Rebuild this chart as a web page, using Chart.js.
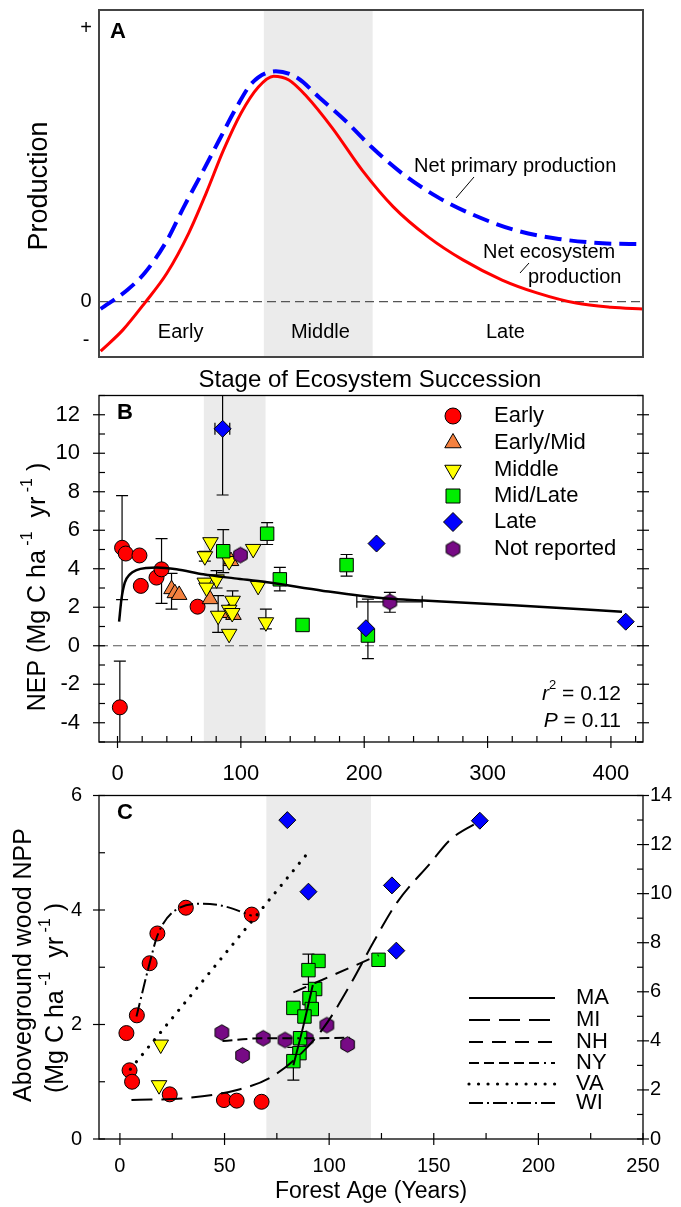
<!DOCTYPE html>
<html>
<head>
<meta charset="utf-8">
<script src="https://cdn.jsdelivr.net/npm/chart.js@4.4.1/dist/chart.umd.min.js"></script>
<style>
  html, body { margin: 0; padding: 0; background: #fff; }
  #fig { position: relative; width: 681px; height: 1207px; overflow: hidden; }
  #fig canvas { position: absolute; left: 0; }
</style>
</head>
<body>
<div id="fig">
  <canvas id="panelA" width="681" height="395" style="top:0px"></canvas>
  <canvas id="panelB" width="681" height="415" style="top:385px"></canvas>
  <canvas id="panelC" width="681" height="422" style="top:785px"></canvas>
</div>
<script>
'use strict';

/* ============================================================
   Data
   ============================================================ */

// --- Panel A : conceptual curves, x = relative stage (0-100) ---
const stageBand   = [30.3, 50.3];
const nppX = [0.3, 5.2, 8.4, 12.5, 15.6, 18.9, 22.1, 25.3, 28.1, 32.5, 36.5, 40.5, 45.3, 50.1, 55.7, 62.1, 68.5, 76.5, 84.5, 92.6, 100];
const nppY = [-0.025, 0.04, 0.098, 0.21, 0.325, 0.44, 0.554, 0.667, 0.749, 0.79, 0.767, 0.70, 0.62, 0.53, 0.44, 0.36, 0.30, 0.245, 0.215, 0.20, 0.197];
const nepX = [0.3, 4.4, 8.4, 12.5, 16.5, 19.7, 22.9, 26.1, 29.3, 32.1, 34.9, 38.1, 42.9, 48.4, 54.1, 60.5, 66.9, 74.1, 80.5, 87.7, 94.1, 100];
const nepY = [-0.17, -0.097, -0.005, 0.098, 0.235, 0.372, 0.52, 0.646, 0.736, 0.773, 0.76, 0.705, 0.595, 0.45, 0.325, 0.222, 0.143, 0.074, 0.03, -0.005, -0.019, -0.025];
const stageNames  = ['Early', 'Middle', 'Late'];
const stageNameX  = [15, 40.7, 74.7];
const signLabels  = ['+', '0', '-'];
const signValues  = [0.938, 0, -0.132];

// --- Panel B : NEP vs forest age ---
const ageBand = [70, 120];
const earlyX  = [3.7, 6.7, 17.8, 18.9, 31.6, 35.7, 64.9, 1.9];
const earlyY  = [5.09, 4.79, 4.69, 3.11, 3.54, 3.97, 2.03, -3.2];
const earlyEY = [[2.4, 7.8], null, null, null, null, [2.2, 5.57], null, [-5.6, -0.8]];
const emidX   = [43.8, 46.5, 50, 75, 90, 94, 92];
const emidY   = [2.94, 2.73, 2.64, 2.42, 1.7, 1.6, 4.4];
const emidEY  = [[1.9, 3.76], null, null, null, null, null, null];
const middleX = [75.4, 70.8, 110, 90.5, 70.8, 80.3, 72.2, 114, 93.3, 81.6, 90.5, 93, 90.5, 120.3];
const middleY = [5.38, 4.65, 5.03, 4.40, 3.28, 3.45, 3.02, 3.11, 2.34, 1.56, 1.87, 1.7, 0.62, 1.22];
const middleEY = [null, [4.4, 4.9], null, null, null, [3.0, 3.9], null, null, [1.4, 2.85], [0.7, 2.6], null, null, null, [0.88, 1.9]];
const mlateX  = [121.3, 85.7, 131.6, 150, 185.7, 203];
const mlateY  = [5.82, 4.91, 3.45, 1.08, 4.19, 0.53];
const mlateEY = [[5.26, 6.4], [3.8, 6.03], [2.85, 4.07], null, [3.62, 4.74], [-0.67, 2.42]];
const lateX   = [85.2, 210, 201.4, 412];
const lateY   = [11.27, 5.31, 0.91, 1.25];
const lateEY  = [[7.83, 14.7], null, null, null];
const lateEX  = [[79, 91], null, null, null];
const notrepX = [99.7, 220.8];
const notrepY = [4.71, 2.28];
const notrepEY = [null, [1.74, 2.77]];
const notrepEX = [null, [194, 247]];
const fitX = [1.3, 3.2, 5.9, 10, 15.4, 23.5, 31.6, 47.8, 69.5, 95, 120, 167, 218, 248, 321, 409];
const fitY = [1.25, 2.42, 3.28, 3.71, 3.93, 4.04, 4.06, 3.97, 3.71, 3.5, 3.31, 2.85, 2.45, 2.35, 2.1, 1.77];
const groupNames = ['Early', 'Early/Mid', 'Middle', 'Mid/Late', 'Late', 'Not reported'];
const nepTicks   = [-4, -2, 0, 2, 4, 6, 8, 10, 12];
const ageTicksB  = [0, 100, 200, 300, 400];

// --- Panel C : aboveground wood NPP vs forest age ---
const cEarlyX  = [31.5, 63, 17.9, 14.2, 8.1, 3.1, 4.6, 5.8, 23.8, 49.7, 55.8, 67.7];
const cEarlyY  = [4.04, 3.92, 3.59, 3.07, 2.16, 1.85, 1.20, 1.0, 0.78, 0.68, 0.67, 0.65];
const cMiddleX = [19.5, 18.7];
const cMiddleY = [1.65, 0.94];
const cNotrepX = [48.7, 58.6, 68.5, 78.9, 89, 98.9, 108.8];
const cNotrepY = [1.86, 1.46, 1.76, 1.73, 1.75, 1.99, 1.65];
const cNotrepEY = [[1.8, 1.92], null, [1.7, 1.82], null, null, null, [1.59, 1.71]];
const cMlateX  = [94.9, 90.1, 93.3, 90.6, 82.9, 91.7, 88.2, 86.1, 85.8, 82.9, 123.6];
const cMlateY  = [3.11, 2.95, 2.62, 2.46, 2.29, 2.27, 2.14, 1.76, 1.50, 1.36, 3.13];
const cMlateEY = [null, [2.7, 3.23], null, null, null, null, null, null, null, [1.03, 1.6], null];
const cLateX   = [80, 90.1, 130, 172, 132.1];
const cLateY   = [5.57, 4.32, 4.43, 5.56, 3.29];
const maX = [82.9, 87.5, 92.2];
const maY = [1.29, 1.95, 2.69];
const miX = [5.5, 33.4, 57.4, 71.7, 84.5, 97.3, 110, 121.2, 132.4, 148.4, 158, 172.4];
const miY = [0.68, 0.72, 0.87, 1.07, 1.42, 1.94, 2.69, 3.44, 4.13, 4.82, 5.23, 5.56];
const nhX = [82.9, 123.6];
const nhY = [2.56, 3.21];
const nyX = [49, 68.5, 89, 110];
const nyY = [1.71, 1.76, 1.76, 1.77];
const vaX = [5, 90.1];
const vaY = [1.22, 5.01];
const wiX = [7.9, 14.2, 18.2, 28.6, 39.8, 49.4, 63];
const wiY = [2.14, 3.07, 3.58, 4.04, 4.11, 4.07, 3.90];
const siteNames    = ['MA', 'MI', 'NH', 'NY', 'VA', 'WI'];
const nppTicks     = [0, 2, 4, 6];
const nppRightTicks = [0, 2, 4, 6, 8, 10, 12, 14];
const ageTicksC    = [0, 50, 100, 150, 200, 250];

/* ============================================================
   Styles / helpers
   ============================================================ */
const FONT = "'Liberation Sans', Arial, Helvetica, sans-serif";
Chart.defaults.font.family = FONT;
Chart.defaults.color = '#000';

const COL = {
  early: '#ff0000', emid: '#f4813f', middle: '#ffff00',
  mlate: '#00ee00', late: '#0000ff', notrep: '#770a85',
  band: '#ebebeb',
};
const SITE_DASH = {
  MA: [], MI: [21, 9], NH: [14, 9],
  NY: [10, 5, 10, 5, 10, 5, 10, 5, 10, 5, 2, 5],
  VA: [0.01, 9.5], WI: [14, 4, 2, 4],
};

function hexImage(r, fill) {
  const s = Math.ceil(2 * r + 3);
  const c = document.createElement('canvas');
  c.width = s; c.height = s;
  const g = c.getContext('2d');
  g.beginPath();
  for (let k = 0; k < 6; k++) {
    const a = Math.PI / 2 + k * Math.PI / 3;
    const px = s / 2 + r * Math.cos(a), py = s / 2 + r * Math.sin(a);
    if (k) g.lineTo(px, py); else g.moveTo(px, py);
  }
  g.closePath();
  g.fillStyle = fill; g.fill();
  g.strokeStyle = '#000'; g.lineWidth = 1; g.stroke();
  return c;
}
const HEX = hexImage(7.8, COL.notrep);

const pts = (xs, ys) => xs.map((x, i) => ({ x, y: ys[i] }));

function pointSet(xs, ys, style, extra) {
  return Object.assign({
    type: 'scatter',
    data: pts(xs, ys),
    pointBorderColor: '#000',
    pointBorderWidth: 1,
    pointHoverRadius: 0,
  }, style, extra || {});
}

const MARK = {
  early:  { pointStyle: 'circle',   pointRadius: 7.5, pointBackgroundColor: COL.early },
  emid:   { pointStyle: 'triangle', pointRadius: 9,   pointBackgroundColor: COL.emid },
  middle: { pointStyle: 'triangle', pointRadius: 9,   pointRotation: 180, pointBackgroundColor: COL.middle },
  mlate:  { pointStyle: 'rect',     pointRadius: 9.5, pointBackgroundColor: COL.mlate },
  late:   { pointStyle: 'rectRot',  pointRadius: 8.5, pointBackgroundColor: COL.late },
  notrep: { pointStyle: HEX,        pointRadius: 8,   pointBackgroundColor: COL.notrep },
};

function curve(xs, ys, color, width, dash, extra) {
  return Object.assign({
    type: 'line',
    data: pts(xs, ys),
    borderColor: color,
    borderWidth: width,
    borderDash: dash || [],
    pointRadius: 0,
    fill: false,
    cubicInterpolationMode: 'monotone',
  }, extra || {});
}

function axis(min, max, tickValues, o) {
  return {
    type: 'linear', min, max, position: o.position,
    grid: { display: false, drawTicks: false, tickLength: 0 },
    border: { display: false },
    ticks: {
      display: !!tickValues, padding: o.pad || 0, autoSkip: false, maxRotation: 0,
      font: { size: o.size || 20 }, color: '#000',
    },
    afterBuildTicks: s => { if (tickValues) s.ticks = tickValues.map(v => ({ value: v })); },
    afterFit: s => {
      // pin box sizes so the plot frames land where the figure has them
      if (o.w != null) s.width = o.w;
      if (o.h != null) s.height = o.h;
      s.paddingTop = 0; s.paddingBottom = 0;
      s.paddingLeft = 0; s.paddingRight = 0;
    },
  };
}

function baseOptions(padding, scales) {
  return {
    responsive: false, animation: false, events: [],
    layout: { padding },
    plugins: { legend: { display: false }, tooltip: { enabled: false } },
    scales,
  };
}

/* rich text: parts = [[text, 'n' | 's' (superscript) | 'i' (italic) | 'b' (bold)]] */
function drawRich(ctx, parts, x, y, size, align) {
  const fontFor = k => (k === 'i' ? 'italic ' : k === 'b' ? 'bold ' : '') +
    (k === 's' ? Math.round(size * 0.62) : size) + 'px ' + FONT;
  let w = 0;
  parts.forEach(([t, k]) => { ctx.font = fontFor(k); w += ctx.measureText(t).width; });
  let cx = align === 'center' ? x - w / 2 : align === 'right' ? x - w : x;
  ctx.textAlign = 'left';
  ctx.textBaseline = 'middle';
  ctx.fillStyle = '#000';
  parts.forEach(([t, k]) => {
    ctx.font = fontFor(k);
    ctx.fillText(t, cx, k === 's' ? y - size * 0.4 : y);
    cx += ctx.measureText(t).width;
  });
}
function drawRotated(ctx, parts, x, y, size) {
  ctx.save();
  ctx.translate(x, y);
  ctx.rotate(-Math.PI / 2);
  drawRich(ctx, parts, 0, 0, size, 'center');
  ctx.restore();
}
function line(ctx, x1, y1, x2, y2) {
  ctx.beginPath(); ctx.moveTo(x1, y1); ctx.lineTo(x2, y2); ctx.stroke();
}

function marker(ctx, kind, x, y) {
  ctx.save();
  ctx.strokeStyle = '#000'; ctx.lineWidth = 1;
  ctx.beginPath();
  if (kind === 'notrep') {
    ctx.drawImage(HEX, x - HEX.width / 2, y - HEX.height / 2);
    ctx.restore();
    return;
  }
  if (kind === 'early') { ctx.arc(x, y, 8, 0, Math.PI * 2); }
  if (kind === 'emid' || kind === 'middle') {
    const s = kind === 'emid' ? 1 : -1, r = 9.5, c = r * Math.cos(Math.PI / 6);
    ctx.moveTo(x, y - s * r); ctx.lineTo(x + c, y + s * r / 2); ctx.lineTo(x - c, y + s * r / 2);
  }
  if (kind === 'mlate') { ctx.rect(x - 7, y - 7, 14, 14); }
  if (kind === 'late') { const r = 9.5; ctx.moveTo(x, y - r); ctx.lineTo(x + r, y); ctx.lineTo(x, y + r); ctx.lineTo(x - r, y); }
  ctx.closePath();
  ctx.fillStyle = COL[kind]; ctx.fill(); ctx.stroke();
  ctx.restore();
}

/* error bars from dataset fields errY / errX (data values) */
function drawErrorBars(chart) {
  const { ctx, chartArea: a, scales } = chart;
  const CAP = 6;
  ctx.save();
  ctx.beginPath(); ctx.rect(a.left, a.top, a.right - a.left, a.bottom - a.top); ctx.clip();
  ctx.strokeStyle = '#000'; ctx.lineWidth = 1.2;
  chart.data.datasets.forEach(ds => {
    if (!ds.errY && !ds.errX) return;
    const xs = scales.x, ys = scales.y;
    ds.data.forEach((p, i) => {
      const px = xs.getPixelForValue(p.x), py = ys.getPixelForValue(p.y);
      const ey = ds.errY && ds.errY[i];
      if (ey) {
        const y1 = ys.getPixelForValue(ey[0]), y2 = ys.getPixelForValue(ey[1]);
        line(ctx, px, y1, px, y2);
        line(ctx, px - CAP, y1, px + CAP, y1);
        line(ctx, px - CAP, y2, px + CAP, y2);
      }
      const ex = ds.errX && ds.errX[i];
      if (ex) {
        const x1 = xs.getPixelForValue(ex[0]), x2 = xs.getPixelForValue(ex[1]);
        line(ctx, x1, py, x2, py);
        line(ctx, x1, py - CAP, x1, py + CAP);
        line(ctx, x2, py - CAP, x2, py + CAP);
      }
    });
  });
  ctx.restore();
}

/* tick marks crossing the frame: major both sides, minor inside */
function drawTicks(chart, id, side, major, minor) {
  const { ctx, chartArea: a } = chart;
  const s = chart.scales[id], L = 6;
  ctx.save();
  ctx.strokeStyle = '#000'; ctx.lineWidth = 1.2;
  const put = (v, big) => {
    const p = s.getPixelForValue(v);
    if (side === 'left')   line(ctx, a.left + L, p, big ? a.left - L : a.left, p);
    if (side === 'right')  line(ctx, a.right - L, p, big ? a.right + L : a.right, p);
    if (side === 'bottom') line(ctx, p, a.bottom - L, p, big ? a.bottom + L : a.bottom);
  };
  major.forEach(v => put(v, true));
  minor.forEach(v => put(v, false));
  ctx.restore();
}
function minorBetween(min, max, step, major) {
  const out = [];
  for (let v = Math.ceil(min / step) * step; v <= max + 1e-9; v += step) {
    if (!major.some(m => Math.abs(m - v) < 1e-9)) out.push(v);
  }
  return out;
}

function decor(spec) {
  return {
    id: 'decor' + spec.name,
    beforeDatasetsDraw(chart) {
      const { ctx, chartArea: a, scales } = chart;
      ctx.save();
      const x1 = scales.x.getPixelForValue(spec.band[0]);
      const x2 = scales.x.getPixelForValue(spec.band[1]);
      ctx.fillStyle = COL.band;
      ctx.fillRect(x1, a.top, x2 - x1, a.bottom - a.top);
      if (spec.zero) {
        const y0 = scales.y.getPixelForValue(0);
        ctx.strokeStyle = '#555'; ctx.lineWidth = 1.2; ctx.setLineDash([9, 5]);
        line(ctx, a.left, y0, a.right, y0);
      }
      ctx.restore();
      drawErrorBars(chart);
    },
    afterDraw(chart) {
      const { ctx, chartArea: a } = chart;
      ctx.save();
      ctx.strokeStyle = spec.frameColor || '#000';
      ctx.lineWidth = spec.frameWidth || 1.3;
      ctx.strokeRect(a.left, a.top, a.right - a.left, a.bottom - a.top);
      ctx.restore();
      ctx.save();
      ctx.translate(0, -spec.top);      // draw below in page coordinates
      spec.draw(chart, ctx);
      ctx.restore();
    },
  };
}

/* ============================================================
   Panel A
   ============================================================ */
new Chart(document.getElementById('panelA'), {
  type: 'line',
  data: {
    datasets: [
      curve(nepX, nepY, '#ff0000', 3),
      curve(nppX, nppY, '#0000ff', 4, [17, 8]),
    ],
  },
  options: baseOptions({ top: 10, right: 38, left: 0, bottom: 0 }, {
    x: axis(0, 100, null, { position: 'bottom', h: 38 }),
    y: axis(-0.19, 1, null, { position: 'left', w: 99 }),
  }),
  plugins: [decor({
    name: 'A', top: 0, band: stageBand, zero: true, frameColor: '#444', frameWidth: 2,
    draw(chart, ctx) {
      const ys = chart.scales.y, xs = chart.scales.x;
      ctx.fillStyle = '#000';
      signLabels.forEach((t, i) => drawRich(ctx, [[t, 'n']], 86, ys.getPixelForValue(signValues[i]), 20, 'center'));
      drawRich(ctx, [['A', 'b']], 118, 32, 22, 'center');
      drawRotated(ctx, [['Production', 'n']], 40, 186, 27);
      stageNames.forEach((t, i) => drawRich(ctx, [[t, 'n']], xs.getPixelForValue(stageNameX[i]), 332, 20, 'center'));
      drawRich(ctx, [['Net primary production', 'n']], 414, 166, 20, 'left');
      drawRich(ctx, [['Net ecosystem', 'n']], 483, 252, 20, 'left');
      drawRich(ctx, [['production', 'n']], 528, 277, 20, 'left');
      ctx.strokeStyle = '#000'; ctx.lineWidth = 1;
      line(ctx, 456, 198, 474, 177);
      line(ctx, 520, 273, 529, 263);
      drawRich(ctx, [['Stage of Ecosystem Succession', 'n']], 370, 380, 24, 'center');
    },
  })],
});

/* ============================================================
   Panel B
   ============================================================ */
new Chart(document.getElementById('panelB'), {
  type: 'scatter',
  data: {
    datasets: [
      curve(fitX, fitY, '#000', 2.5),
      pointSet(notrepX, notrepY, MARK.notrep, { errY: notrepEY, errX: notrepEX }),
      pointSet(lateX, lateY, MARK.late, { errY: lateEY, errX: lateEX }),
      pointSet(mlateX, mlateY, MARK.mlate, { errY: mlateEY }),
      pointSet(middleX, middleY, MARK.middle, { errY: middleEY }),
      pointSet(emidX, emidY, MARK.emid, { errY: emidEY }),
      pointSet(earlyX, earlyY, MARK.early, { errY: earlyEY }),
    ],
  },
  options: baseOptions({ top: 10, right: 38, left: 0, bottom: 0 }, {
    x: axis(-15, 426, ageTicksB, { position: 'bottom', h: 58, pad: 19, size: 22 }),
    y: axis(-5, 13, nepTicks, { position: 'left', w: 99, pad: 19, size: 22 }),
  }),
  plugins: [decor({
    name: 'B', top: 385, band: ageBand, zero: true,
    draw(chart, ctx) {
      ctx.translate(0, 385);
      drawTicks(chart, 'y', 'left', nepTicks, minorBetween(-5, 13, 1, nepTicks));
      drawTicks(chart, 'y', 'right', nepTicks, minorBetween(-5, 13, 1, nepTicks));
      drawTicks(chart, 'x', 'bottom', ageTicksB, minorBetween(-15, 426, 20, ageTicksB));
      ctx.translate(0, -385);
      drawRich(ctx, [['B', 'b']], 125, 413, 22, 'center');
      const kinds = ['early', 'emid', 'middle', 'mlate', 'late', 'notrep'];
      const rowY = [416, 443, 470, 496, 522, 549];
      groupNames.forEach((t, i) => {
        marker(ctx, kinds[i], 453, rowY[i]);
        drawRich(ctx, [[t, 'n']], 494, rowY[i], 22, 'left');
      });
      drawRich(ctx, [['r', 'i'], ['2', 's'], [' = 0.12', 'n']], 621, 694, 21, 'right');
      drawRich(ctx, [['P', 'i'], [' = 0.11', 'n']], 621, 721, 21, 'right');
      drawRotated(ctx, [['NEP (Mg C ha', 'n'], [' -1', 's'], ['  yr', 'n'], [' -1', 's'], [' )', 'n']], 38, 587, 25);
    },
  })],
});

/* ============================================================
   Panel C
   ============================================================ */
new Chart(document.getElementById('panelC'), {
  type: 'scatter',
  data: {
    datasets: [
      curve(maX, maY, '#000', 2, SITE_DASH.MA),
      curve(miX, miY, '#000', 2, SITE_DASH.MI),
      curve(nhX, nhY, '#000', 2, SITE_DASH.NH),
      curve(nyX, nyY, '#000', 2, SITE_DASH.NY),
      curve(vaX, vaY, '#000', 3.2, SITE_DASH.VA, { borderCapStyle: 'round' }),
      curve(wiX, wiY, '#000', 2, SITE_DASH.WI),
      pointSet(cLateX, cLateY, MARK.late),
      pointSet(cMlateX, cMlateY, MARK.mlate, { errY: cMlateEY }),
      pointSet(cNotrepX, cNotrepY, MARK.notrep, { errY: cNotrepEY }),
      pointSet(cMiddleX, cMiddleY, MARK.middle),
      pointSet(cEarlyX, cEarlyY, MARK.early),
    ],
  },
  options: baseOptions({ top: 6, right: 0, left: 0, bottom: 0 }, {
    x: axis(-10, 250, ageTicksC, { position: 'bottom', h: 68, pad: 15, size: 20 }),
    y: axis(0, 6, nppTicks, { position: 'left', w: 99, pad: 17, size: 20 }),
    y2: axis(0, 14, nppRightTicks, { position: 'right', w: 38, pad: 7, size: 20 }),
  }),
  plugins: [decor({
    name: 'C', top: 785, band: ageBand, zero: false,
    draw(chart, ctx) {
      ctx.translate(0, 785);
      drawTicks(chart, 'y', 'left', nppTicks, minorBetween(0, 6, 1, nppTicks));
      drawTicks(chart, 'y2', 'right', nppRightTicks, minorBetween(0, 14, 1, nppRightTicks));
      drawTicks(chart, 'x', 'bottom', ageTicksC, minorBetween(-10, 250, 25, ageTicksC));
      ctx.translate(0, -785);
      drawRich(ctx, [['C', 'b']], 125, 813, 22, 'center');
      const rowY = [998, 1020, 1042, 1063, 1084, 1103];
      siteNames.forEach((t, i) => {
        ctx.save();
        ctx.strokeStyle = '#000';
        ctx.lineWidth = t === 'VA' ? 3.2 : 2;
        ctx.lineCap = t === 'VA' ? 'round' : 'butt';
        ctx.setLineDash(SITE_DASH[t]);
        line(ctx, 469, rowY[i], 555, rowY[i]);
        ctx.restore();
        drawRich(ctx, [[t, 'n']], 576, rowY[i], 22, 'left');
      });
      drawRotated(ctx, [['Aboveground wood NPP', 'n']], 24, 965, 25);
      drawRotated(ctx, [['(Mg C ha', 'n'], [' -1', 's'], ['  yr', 'n'], [' -1', 's'], [' )', 'n']], 56, 998, 25);
      drawRich(ctx, [['Forest Age (Years)', 'n']], 371, 1192, 23, 'center');
    },
  })],
});
</script>
</body>
</html>
